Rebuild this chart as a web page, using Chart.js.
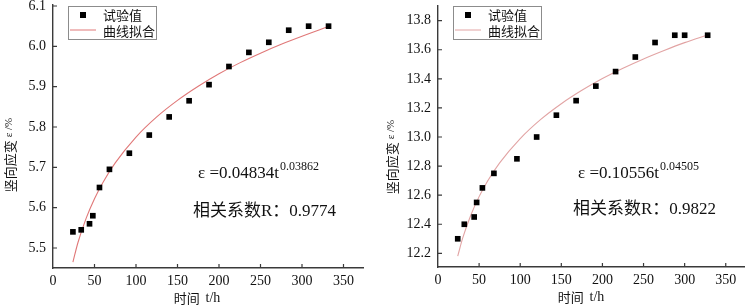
<!DOCTYPE html>
<html>
<head>
<meta charset="utf-8">
<script src="https://cdn.jsdelivr.net/npm/chart.js@4.4.0/dist/chart.umd.min.js"></script>
<style>
  html, body { margin: 0; padding: 0; background: #fff; }
  #wrap { position: relative; width: 748px; height: 306px; }
  canvas { position: absolute; top: 0; }
</style>
</head>
<body>
<div id="wrap">
  <canvas id="left" width="374" height="306" style="left:0"></canvas>
  <canvas id="right" width="374" height="306" style="left:374px"></canvas>
</div>
<script>
// left specimen: test values
const hoursA = [24, 34, 44, 48, 56, 68, 92, 116, 140, 164, 188, 212, 236, 260, 284, 308, 332];
const strainA = [5.54, 5.545, 5.56, 5.58, 5.65, 5.695, 5.735, 5.78, 5.825, 5.865, 5.905, 5.95, 5.985, 6.01, 6.04, 6.05, 6.05];
// left specimen: fitted curve
const fitHoursA = [24, 30, 40, 50, 60, 75, 100, 125, 150, 175, 200, 225, 250, 275, 300, 332];
const fitStrainA = [5.465, 5.513, 5.574, 5.622, 5.662, 5.711, 5.775, 5.825, 5.866, 5.901, 5.932, 5.959, 5.983, 6.005, 6.025, 6.049];

// right specimen
const hoursB = [24, 32, 44, 47, 54, 68, 96, 120, 144, 168, 192, 216, 240, 264, 288, 300, 328];
const strainB = [12.30, 12.40, 12.45, 12.55, 12.65, 12.75, 12.85, 13.00, 13.15, 13.25, 13.35, 13.45, 13.55, 13.65, 13.70, 13.70, 13.70];
const fitHoursB = [24, 30, 40, 50, 60, 75, 100, 125, 150, 175, 200, 225, 250, 275, 300, 328];
const fitStrainB = [12.181, 12.304, 12.464, 12.590, 12.694, 12.822, 12.989, 13.121, 13.229, 13.321, 13.402, 13.473, 13.537, 13.595, 13.649, 13.702];

const xTicks = [0, 50, 100, 150, 200, 250, 300, 350];
const yTicksA = [5.5, 5.6, 5.7, 5.8, 5.9, 6.0, 6.1];
const yTicksB = [12.2, 12.4, 12.6, 12.8, 13.0, 13.2, 13.4, 13.6, 13.8];

const legendLabels = ['试验值', '曲线拟合'];
const xTitle = ['时间', 't/h'];
const yTitle = ['竖向应变', 'ε /%'];

const SERIF = '"Liberation Serif", "Noto Sans CJK SC", serif';
const CJK = '"Noto Sans CJK SC", sans-serif';
const AXIS = '#3a3a3a';

const decor = {
  id: 'decor',
  afterDraw(chart, args, o) {
    const ctx = chart.ctx, a = chart.chartArea;
    const xs = chart.scales.x, ys = chart.scales.y;
    ctx.save();

    // tick marks point into the plot
    ctx.strokeStyle = AXIS;
    ctx.lineWidth = 1.2;
    ctx.beginPath();
    ys.ticks.forEach(t => {
      const y = ys.getPixelForValue(t.value);
      ctx.moveTo(a.left, y); ctx.lineTo(a.left + 4, y);
    });
    xs.ticks.forEach(t => {
      if (t.value === 0) return;
      const x = xs.getPixelForValue(t.value);
      ctx.moveTo(x, a.bottom); ctx.lineTo(x, a.bottom - 4);
    });
    ctx.stroke();

    // legend
    const lg = o.legend;
    ctx.strokeStyle = '#8c8c8c';
    ctx.lineWidth = 1;
    ctx.strokeRect(lg.x + 0.5, lg.y + 0.5, lg.w, lg.h);
    ctx.fillStyle = '#000';
    ctx.fillRect(lg.x + 12, lg.y + 6, 6, 6);
    ctx.strokeStyle = o.lineColor;
    ctx.beginPath();
    ctx.moveTo(lg.x + 2, lg.y + 24); ctx.lineTo(lg.x + 28, lg.y + 24);
    ctx.stroke();
    ctx.fillStyle = '#111';
    ctx.font = '13px ' + CJK;
    ctx.textBaseline = 'middle';
    ctx.textAlign = 'left';
    ctx.fillText(legendLabels[0], lg.x + 35, lg.y + 9);
    ctx.fillText(legendLabels[1], lg.x + 35, lg.y + 25);

    // fitted formula
    const eq = o.eq;
    ctx.font = '17px ' + SERIF;
    ctx.textBaseline = 'alphabetic';
    ctx.fillText(eq.main, eq.x, eq.y);
    const w = ctx.measureText(eq.main).width;
    ctx.font = '12px ' + SERIF;
    ctx.fillText(eq.sup, eq.x + w + 1, eq.y - 8);

    ctx.font = '17px ' + SERIF;
    ctx.textBaseline = 'middle';
    ctx.fillText(o.r.text, o.r.x, o.r.y);

    // x axis title
    ctx.font = '13px ' + CJK;
    const w1 = ctx.measureText(xTitle[0] + '  ').width;
    ctx.font = '14px ' + SERIF;
    const w2 = ctx.measureText(xTitle[1]).width;
    let x0 = o.xt.x - (w1 + w2) / 2;
    ctx.font = '13px ' + CJK;
    ctx.fillText(xTitle[0], x0, o.xt.y);
    ctx.font = '14px ' + SERIF;
    ctx.fillText(xTitle[1], x0 + w1, o.xt.y);

    // y axis title, rotated
    ctx.translate(o.yt.x, o.yt.y);
    ctx.rotate(-Math.PI / 2);
    ctx.font = '13px ' + CJK;
    const v1 = ctx.measureText(yTitle[0] + ' ').width;
    ctx.font = '11px ' + SERIF;
    const v2 = ctx.measureText(yTitle[1]).width;
    const s0 = -(v1 + v2) / 2;
    ctx.font = '13px ' + CJK;
    ctx.fillText(yTitle[0], s0, 0);
    ctx.font = '11px ' + SERIF;
    ctx.fillText(yTitle[1], s0 + v1, -1);

    ctx.restore();
  }
};

function makeChart(id, c) {
  return new Chart(document.getElementById(id), {
    type: 'scatter',
    data: {
      datasets: [
        {
          label: legendLabels[0],
          data: c.hours.map((h, i) => ({ x: h, y: c.strain[i] })),
          pointStyle: 'rect',
          pointRadius: 4,
          pointBackgroundColor: '#000',
          pointBorderWidth: 0,
          showLine: false
        },
        {
          label: legendLabels[1],
          data: c.fitHours.map((h, i) => ({ x: h, y: c.fitStrain[i] })),
          showLine: true,
          borderColor: c.lineColor,
          borderWidth: 1.1,
          pointRadius: 0,
          cubicInterpolationMode: 'monotone'
        }
      ]
    },
    options: {
      responsive: false,
      animation: false,
      devicePixelRatio: 1,
      layout: { padding: { left: 0, top: c.padTop, right: c.padRight, bottom: 0 } },
      scales: {
        x: {
          type: 'linear',
          min: 0,
          max: c.xMax,
          grid: { display: false, drawTicks: false },
          border: { display: true, color: AXIS, width: 1.4 },
          ticks: { color: '#111', padding: 5, font: { family: SERIF, size: 14 } },
          afterBuildTicks: s => { s.ticks = xTicks.map(v => ({ value: v })); },
          afterFit: s => { s.height = c.xHeight; s.paddingLeft = 0; s.paddingRight = 0; }
        },
        y: {
          min: c.yMin,
          max: c.yMax,
          grid: { display: false, drawTicks: false },
          border: { display: true, color: AXIS, width: 1.4 },
          ticks: {
            color: '#111', padding: 7, font: { family: SERIF, size: 14 },
            callback: v => v.toFixed(1)
          },
          afterBuildTicks: s => { s.ticks = c.yTicks.map(v => ({ value: v })); },
          afterFit: s => { s.width = c.yWidth; s.paddingTop = 0; s.paddingBottom = 0; }
        }
      },
      plugins: {
        legend: { display: false },
        tooltip: { enabled: false },
        decor: c.decor
      }
    },
    plugins: [decor]
  });
}

makeChart('left', {
  hours: hoursA, strain: strainA, fitHours: fitHoursA, fitStrain: fitStrainA,
  yTicks: yTicksA, yMin: 5.4504, yMax: 6.1025, xMax: 373.5,
  yWidth: 53, padRight: 11, padTop: 5, xHeight: 38,
  lineColor: '#e07878',
  decor: {
    lineColor: '#e07878',
    legend: { x: 68, y: 6, w: 88, h: 33 },
    eq: { main: 'ε =0.04834t', sup: '0.03862', x: 198, y: 178 },
    r: { text: '相关系数R：0.9774', x: 193, y: 212 },
    xt: { x: 197, y: 298 },
    yt: { x: 10, y: 155 }
  }
});

makeChart('right', {
  hours: hoursB, strain: strainB, fitHours: fitHoursB, fitStrain: fitStrainB,
  yTicks: yTicksB, yMin: 12.106, yMax: 13.901, xMax: 372.2,
  yWidth: 64, padRight: 3, padTop: 6, xHeight: 39,
  lineColor: '#e2a4a4',
  decor: {
    lineColor: '#e2a4a4',
    legend: { x: 79, y: 6, w: 88, h: 33 },
    eq: { main: 'ε =0.10556t', sup: '0.04505', x: 204, y: 178 },
    r: { text: '相关系数R：0.9822', x: 199, y: 210 },
    xt: { x: 207, y: 297 },
    yt: { x: 18, y: 157 }
  }
});
</script>
</body>
</html>
